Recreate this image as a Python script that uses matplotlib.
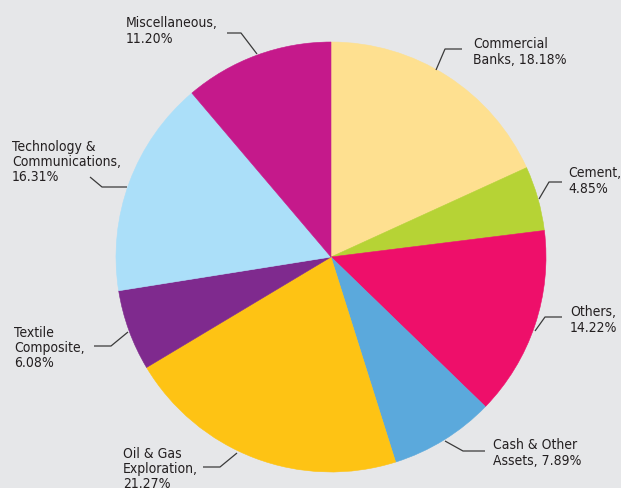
import matplotlib
matplotlib.use("Agg")
import matplotlib.pyplot as plt

# Portfolio sector split (%), clockwise from 12 o'clock
SECTORS = ["Commercial Banks", "Cement", "Others", "Cash & Other Assets",
           "Oil & Gas Exploration", "Textile Composite",
           "Technology & Communications", "Miscellaneous"]
SHARES = [18.18, 4.85, 14.22, 7.89, 21.27, 6.08, 16.31, 11.20]
LABELS = ["Commercial\nBanks, 18.18%", "Cement,\n4.85%", "Others,\n14.22%",
          "Cash & Other\nAssets, 7.89%", "Oil & Gas\nExploration,\n21.27%",
          "Textile\nComposite,\n6.08%", "Technology &\nCommunications,\n16.31%",
          "Miscellaneous,\n11.20%"]
COLORS = ["#fee090", "#b6d335", "#ee0f6a", "#5ba9dc",
          "#fec314", "#7f2a8e", "#abdff9", "#c5198b"]

W, H = 621, 489
BG = "#e6e7e9"
INK = "#231f20"

# label placement in pixel coords (x, y-centre) and leader polylines
TEXT_POS = [(473, 52), (568, 181), (570, 320), (493, 453),
            (123, 469), (14, 348), (12, 162), (126, 31)]
LEADERS = [
    [(462, 50), (445, 50), (436, 71)],
    [(562, 183), (549, 183), (539, 200)],
    [(562, 318), (545, 318), (535, 332)],
    [(485, 452), (463, 452), (445, 442)],
    [(203, 468), (220, 468), (237, 454)],
    [(94, 347), (111, 347), (128, 333)],
    [(90, 178), (102, 188), (127, 188)],
    [(227, 34), (241, 34), (257, 55)],
]

fig = plt.figure(figsize=(W / 100, H / 100), dpi=100, facecolor=BG)
ax = fig.add_axes([0, 0, 1, 1])
ax.set_facecolor(BG)

wedges, _ = ax.pie(SHARES, colors=COLORS, startangle=90, counterclock=False,
                   center=(331, H - 258), radius=215,
                   wedgeprops=dict(linewidth=0.4))
for w, c in zip(wedges, COLORS):
    w.set_edgecolor(c)

for label, (x, y) in zip(LABELS, TEXT_POS):
    ax.text(x, H - y, label, ha="left", va="center", fontsize=10,
            color=INK, linespacing=1.1, family="DejaVu Sans",
            stretch="condensed")

for pts in LEADERS:
    ax.plot([p[0] for p in pts], [H - p[1] for p in pts],
            color="#3a3a3a", linewidth=0.9, solid_capstyle="butt")

ax.set_xlim(0, W)
ax.set_ylim(0, H)
ax.set_aspect("equal")
ax.axis("off")

fig.savefig("out.png", dpi=100, facecolor=BG)
